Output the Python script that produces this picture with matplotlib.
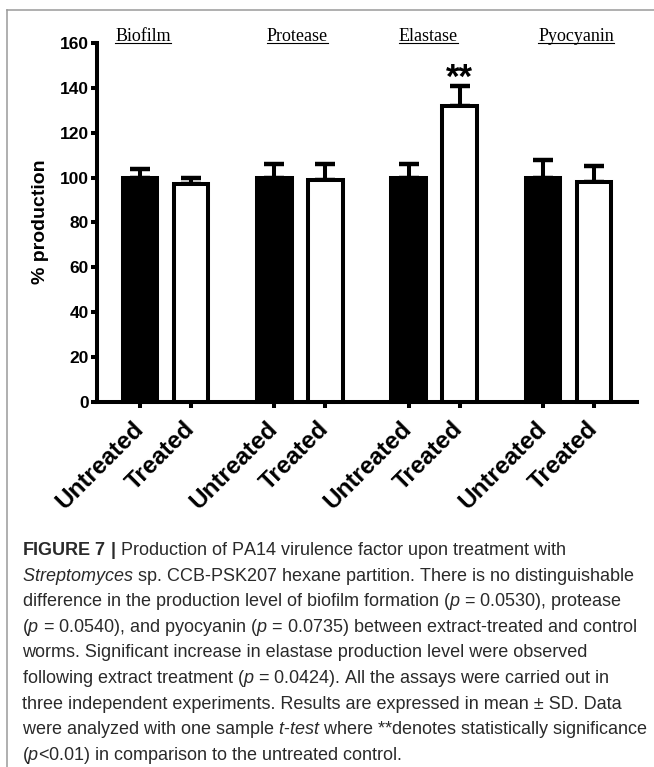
import matplotlib
matplotlib.use('Agg')
import matplotlib.pyplot as plt
import numpy as np
from matplotlib.lines import Line2D
import matplotlib.transforms as mtransforms

# ---------------- data ----------------
categories = ['Biofilm', 'Protease', 'Elastase', 'Pyocyanin']
conditions = ['Untreated', 'Treated']
untreated_mean = [100, 100, 100, 100]
untreated_sd = [4, 6, 6, 8]
treated_mean = [97, 99, 132, 98]
treated_sd = [3, 7, 9, 7]
significance = ['', '', '**', '']
yticks = [0, 20, 40, 60, 80, 100, 120, 140, 160]
ylabel = '% production'

caption_lines = [
    r"$\mathbf{FIGURE\ 7\ |}$ Production of PA14 virulence factor upon treatment with",
    r"$\mathit{Streptomyces}$ sp. CCB-PSK207 hexane partition. There is no distinguishable",
    r"difference in the production level of biofilm formation ($\mathit{p}$ = 0.0530), protease",
    r"($\mathit{p}$ = 0.0540), and pyocyanin ($\mathit{p}$ = 0.0735) between extract-treated and control",
    r"worms. Significant increase in elastase production level were observed",
    r"following extract treatment ($\mathit{p}$ = 0.0424). All the assays were carried out in",
    r"three independent experiments. Results are expressed in mean ± SD. Data",
    r"were analyzed with one sample $\mathit{t}$-$\mathit{test}$ where **denotes statistically significance",
    r"($\mathit{p}$<0.01) in comparison to the untreated control.",
]

# ---------------- style ----------------
plt.rcParams['font.family'] = ['Liberation Sans', 'DejaVu Sans']
plt.rcParams['mathtext.fontset'] = 'custom'
plt.rcParams['mathtext.rm'] = 'Liberation Sans'
plt.rcParams['mathtext.it'] = 'Liberation Sans:italic'
plt.rcParams['mathtext.bf'] = 'Liberation Sans:bold'

W, H = 654, 767
fig = plt.figure(figsize=(W / 100, H / 100), dpi=100)
fig.patch.set_facecolor('white')

ax_left, ax_right, ax_top, ax_bottom = 97, 637, 43, 402
ax = fig.add_axes([ax_left / W, 1 - ax_bottom / H,
                   (ax_right - ax_left) / W, (ax_bottom - ax_top) / H])

gap = 2.633
x_u = np.arange(len(categories)) * gap
x_t = x_u + 1
bw = 0.68
lw = 2.9

ax.bar(x_u, untreated_mean, bw, color='black', edgecolor='black',
       linewidth=lw, zorder=3, clip_on=False)
ax.bar(x_t, treated_mean, bw, color='white', edgecolor='black',
       linewidth=lw, zorder=3, clip_on=False)
ax.errorbar(x_u, untreated_mean, yerr=[np.zeros(len(x_u)), untreated_sd],
            fmt='none', ecolor='black', elinewidth=lw, capsize=7.5,
            capthick=lw + 0.3, zorder=2, clip_on=False)
ax.errorbar(x_t, treated_mean, yerr=[np.zeros(len(x_t)), treated_sd],
            fmt='none', ecolor='black', elinewidth=lw, capsize=7.5,
            capthick=lw + 0.3, zorder=2, clip_on=False)

for xi, m, s, sig in zip(x_t, treated_mean, treated_sd, significance):
    if sig:
        ax.text(xi, m + s - 1, sig, ha='center', va='baseline',
                fontsize=25, fontweight='bold', zorder=5)

ax.set_xlim(-0.843, 9.745)
ax.set_ylim(0, 160)
ax.set_yticks(yticks)
ax.set_yticklabels([str(v) for v in yticks], fontsize=12.5, fontweight='bold')

xt = np.ravel(np.column_stack([x_u, x_t]))
ax.set_xticks(xt)
ax.set_xticklabels(conditions * len(categories), fontsize=17.5,
                   fontweight='bold', rotation=45, ha='right', va='center',
                   rotation_mode='anchor')

for side in ['top', 'right']:
    ax.spines[side].set_visible(False)
for side in ['left', 'bottom']:
    ax.spines[side].set_linewidth(lw)
    ax.spines[side].set_color('black')
ax.tick_params(axis='both', direction='out', width=lw, length=4.5,
               color='black')
ax.tick_params(axis='y', pad=1.5)
ax.tick_params(axis='x', pad=12)

fig.text(41 / W, 1 - 222 / H, ylabel, rotation=90, ha='center',
         va='center', fontsize=14, fontweight='bold')

# group titles (underlined, serif)
title_offsets = [0.06, 0.45, 0.39, 0.65]
trans = mtransforms.blended_transform_factory(ax.transData, ax.transAxes)
title_y = (ax_bottom - 41) / (ax_bottom - ax_top)
titles = []
for xi, off, name in zip(x_u, title_offsets, categories):
    t = ax.text(xi + off, title_y, name, transform=trans, ha='center',
                va='baseline', fontsize=13, family='Liberation Serif',
                clip_on=False)
    titles.append(t)

# caption
for i, line in enumerate(caption_lines):
    fig.text(22 / W, 1 - (555 + 25.6 * i) / H, line, ha='left',
             va='baseline', fontsize=13.0, color='#2a2a2a')

# frame lines (gray)
fig.add_artist(Line2D([7 / W, 7 / W], [0, 1 - 10 / H], color='#9a9a9a',
                      lw=1.1, transform=fig.transFigure))
fig.add_artist(Line2D([7 / W, 1], [1 - 10 / H, 1 - 10 / H], color='#9a9a9a',
                      lw=1.1, transform=fig.transFigure))

# underline the titles
fig.canvas.draw()
renderer = fig.canvas.get_renderer()
for t in titles:
    bb = t.get_window_extent(renderer)
    base_disp = t.get_transform().transform(t.get_position())[1]
    yline = base_disp - 2.0
    fig.add_artist(Line2D([bb.x0 / W, bb.x1 / W], [yline / H, yline / H],
                          color='black', lw=0.8, transform=fig.transFigure))

fig.savefig('out.png', dpi=100, facecolor='white')
